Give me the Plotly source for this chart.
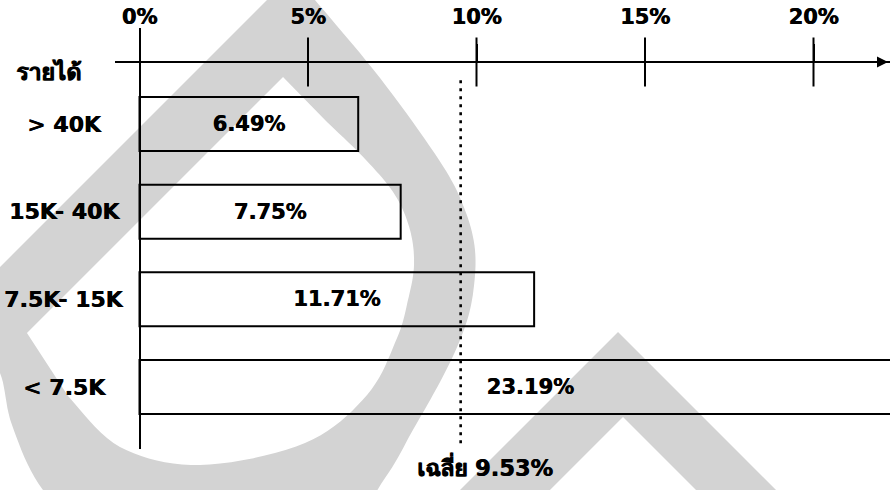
import plotly.graph_objects as go

# ---- data -------------------------------------------------------------
categories = ["> 40K", "15K- 40K", "7.5K- 15K", "< 7.5K"]
share = [6.49, 7.75, 11.71, 23.19]          # % per income group
average = 9.53                               # overall average, %
tick_values = [0, 5, 10, 15, 20]
tick_labels = ["0%", "5%", "10%", "15%", "20%"]
header_text = "รายได้"
average_word = "เฉลี่ย"

# ---- page geometry ------------------------------------------------------
W, H = 890, 490
M_T, M_B = 28, 41
PLOT_H = H - M_T - M_B
X_LEFT_PX = 115
X_RANGE = [-0.727, 22.27]
Y_RANGE = [3.707, -1.095]          # reversed: first group on top
AXIS_PX = 62                        # row of the horizontal axis line

axis_pos = (H - M_B - AXIS_PX) / PLOT_H
axis_y = Y_RANGE[1] + (AXIS_PX - M_T) / PLOT_H * (Y_RANGE[0] - Y_RANGE[1])

FONT = "DejaVu Sans, Noto Sans, sans-serif"
INK = "#000000"
WASH = "rgb(211,211,211)"
HEAVY = "0.6px 0px 0px #000"


def px_to_paper(x, y):
    return x / W, (H - M_B - y) / PLOT_H


def smooth(points, steps=10):
    """Catmull-Rom spline through the given points (open chain)."""
    pts = [points[0]] + list(points) + [points[-1]]
    out = []
    for i in range(1, len(pts) - 2):
        p0, p1, p2, p3 = pts[i - 1], pts[i], pts[i + 1], pts[i + 2]
        for s in range(steps):
            t = s / steps
            t2, t3 = t * t, t * t * t
            out.append(tuple(
                0.5 * (2 * p1[k] + (-p0[k] + p2[k]) * t
                       + (2 * p0[k] - 5 * p1[k] + 4 * p2[k] - p3[k]) * t2
                       + (-p0[k] + 3 * p1[k] - 3 * p2[k] + p3[k]) * t3)
                for k in range(2)))
    out.append(points[-1])
    return out


def path_from(*rings):
    parts = []
    for ring in rings:
        pts = [px_to_paper(x, y) for x, y in ring]
        parts.append("M " + " L ".join(f"{a:.4f},{b:.4f}" for a, b in pts) + " Z")
    return " ".join(parts)


# light background emblem: straight stroke plus rounded bowl
emblem_outer = [(294, -27)] + smooth([
    (315, 0), (380, 78), (439, 160), (463, 205), (475, 250), (472, 300),
    (460, 340), (440, 382), (414, 428), (385, 478), (335, 540), (220, 572),
    (105, 548), (43, 490), (12, 425), (0, 373), (-25, 335),
]) + [(-60, 327)]
emblem_inner = [(283, 77)] + smooth([
    (325, 120), (366, 160), (395, 195), (410, 230), (414, 265), (408, 300),
    (397, 338), (367, 395), (305, 443), (200, 465), (120, 447), (68, 396),
]) + [(27, 333)]
chevron = [(618, 332), (800, 514), (720, 514), (623, 417), (526, 514), (436, 514)]

shapes = [
    dict(type="path", xref="paper", yref="paper", layer="below",
         path=path_from(emblem_outer, emblem_inner), fillrule="evenodd",
         fillcolor=WASH, line=dict(width=0)),
    dict(type="path", xref="paper", yref="paper", layer="below",
         path=path_from(chevron), fillcolor=WASH, line=dict(width=0)),
]

fig = go.Figure()

# income-group bars (outlined, no fill)
fig.add_trace(go.Bar(
    y=list(range(len(categories))), x=share, orientation="h", width=0.616,
    marker=dict(color="rgba(0,0,0,0)", line=dict(color=INK, width=2)),
    text=[f"{v:.2f}%" for v in share], textposition="inside",
    insidetextanchor="middle", constraintext="none",
    textfont=dict(family=FONT, size=21, color=INK, weight="bold", shadow=HEAVY),
    hoverinfo="skip", showlegend=False,
))

# average reference line
fig.add_trace(go.Scatter(
    x=[average, average], y=[-0.5, 3.64], mode="lines",
    line=dict(color=INK, width=2.6, dash="3px,5px"),
    hoverinfo="skip", showlegend=False,
))

# lower half of the tick marks crossing the axis line
fig.add_trace(go.Scatter(
    x=tick_values[1:], y=[axis_y] * (len(tick_values) - 1), mode="markers",
    marker=dict(symbol="line-ns", size=35, line=dict(color=INK, width=2)),
    hoverinfo="skip", showlegend=False,
))

annotations = []
for i, name in enumerate(categories):
    annotations.append(dict(
        text=name, xref="paper", yref="y", x=64 / W, y=i, xanchor="center",
        yanchor="middle", showarrow=False,
        font=dict(family=FONT, size=22, color=INK, weight="bold", shadow=HEAVY),
    ))

hx, hy = px_to_paper(48, 71)
annotations.append(dict(
    text=header_text, xref="paper", yref="paper", x=hx, y=hy,
    xanchor="center", yanchor="middle", showarrow=False,
    font=dict(family=FONT, size=23, color=INK, weight="bold", shadow=HEAVY),
))

_, ay_ = px_to_paper(0, 467)
annotations.append(dict(
    text=f"{average_word} {average:.2f}%", xref="x", yref="paper",
    x=average, y=ay_, xanchor="left", yanchor="middle", xshift=-46,
    showarrow=False,
    font=dict(family=FONT, size=22.5, color=INK, weight="bold", shadow=HEAVY),
))

# arrow head at the end of the axis
annotations.append(dict(
    text="", xref="paper", yref="paper", x=888 / W, y=axis_pos,
    ax=-16, ay=0, showarrow=True, arrowhead=2, arrowsize=1.1,
    arrowwidth=2, arrowcolor=INK,
))

fig.update_layout(
    width=W, height=H,
    margin=dict(l=0, r=0, t=M_T, b=M_B, pad=0),
    paper_bgcolor="white", plot_bgcolor="rgba(0,0,0,0)",
    shapes=shapes, annotations=annotations, showlegend=False,
    xaxis=dict(
        domain=[X_LEFT_PX / W, 1], range=X_RANGE, side="top",
        anchor="free", position=axis_pos,
        tickmode="array", tickvals=tick_values, ticktext=tick_labels,
        ticks="outside", ticklen=17, tickwidth=2, tickcolor=INK,
        ticklabelstandoff=12,
        tickfont=dict(family=FONT, size=21, color=INK, weight="bold", shadow=HEAVY),
        showline=True, linecolor=INK, linewidth=2,
        showgrid=False, zeroline=True, zerolinecolor=INK, zerolinewidth=2,
        fixedrange=True,
    ),
    yaxis=dict(
        range=Y_RANGE, showticklabels=False, ticks="", showline=False,
        showgrid=False, zeroline=False, fixedrange=True,
    ),
)

fig.write_html("out.html")
